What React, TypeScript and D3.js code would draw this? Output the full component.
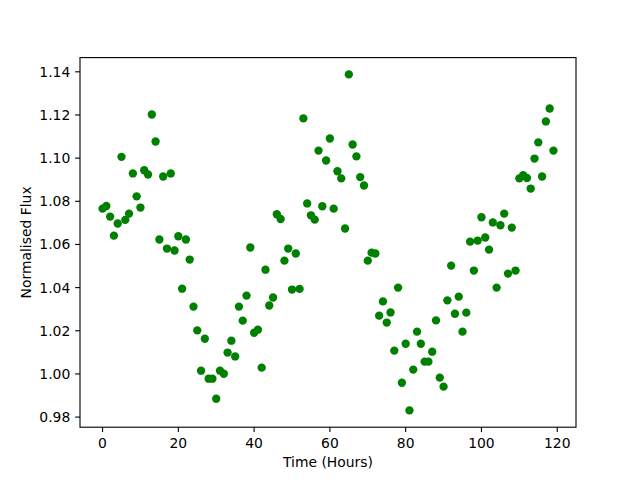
import React from "react";
import * as d3 from "d3";

// Time in hours (0..119) and normalised flux values
const hours: number[] = Array.from({ length: 120 }, (_, i) => i);
const flux: number[] = [
  1.0766, 1.0778, 1.0729, 1.0641, 1.0697, 1.1006, 1.0714, 1.0743, 1.0929, 1.0823,
  1.0771, 1.0944, 1.0924, 1.1202, 1.1077, 1.0623, 1.0915, 1.0581, 1.0929, 1.0572,
  1.0638, 1.0395, 1.0623, 1.0530, 1.0312, 1.0202, 1.0015, 1.0163, 0.9978, 0.9978,
  0.9885, 1.0015, 1.0001, 1.0099, 1.0154, 1.0081, 1.0312, 1.0247, 1.0363, 1.0586,
  1.0191, 1.0205, 1.0029, 1.0483, 1.0317, 1.0354, 1.0740, 1.0718, 1.0525, 1.0581,
  1.0391, 1.0558, 1.0394, 1.1184, 1.0790, 1.0735, 1.0715, 1.1035, 1.0777, 1.0989,
  1.1091, 1.0766, 1.0939, 1.0906, 1.0674, 1.1388, 1.1063, 1.1008, 1.0912, 1.0873,
  1.0525, 1.0562, 1.0558, 1.0270, 1.0336, 1.0238, 1.0285, 1.0108, 1.0400, 0.9959,
  1.0140, 0.9831, 1.0020, 1.0196, 1.0140, 1.0057, 1.0057, 1.0103, 1.0248, 0.9983,
  0.9941, 1.0341, 1.0502, 1.0279, 1.0358, 1.0196, 1.0284, 1.0613, 1.0479, 1.0618,
  1.0726, 1.0632, 1.0576, 1.0702, 1.0400, 1.0689, 1.0743, 1.0465, 1.0678, 1.0479,
  1.0906, 1.0921, 1.0908, 1.0859, 1.0998, 1.1073, 1.0915, 1.1170, 1.1230, 1.1035,
];
const xTicks: number[] = [0, 20, 40, 60, 80, 100, 120];
const yTicks: number[] = [0.98, 1.0, 1.02, 1.04, 1.06, 1.08, 1.1, 1.12, 1.14];
const xLabel = "Time (Hours)";
const yLabel = "Normalised Flux";

export default function App() {
  const W = 640, H = 480;
  const left = 80, right = 576, top = 57.6, bottom = 427.2;
  const font = "DejaVu Sans, sans-serif";
  const fs = 13.9;

  const [x0, x1] = d3.extent(hours) as [number, number];
  const xm = (x1 - x0) * 0.05;
  const x = d3.scaleLinear().domain([x0 - xm, x1 + xm]).range([left, right]);
  const [y0, y1] = d3.extent(flux) as [number, number];
  const ym = (y1 - y0) * 0.05;
  const y = d3.scaleLinear().domain([y0 - ym, y1 + ym]).range([bottom, top]);

  const tickLen = 4.86;
  const color = "#008000";

  return (
    <svg width={W} height={H} style={{ position: "absolute", left: 0, top: 0, background: "#fff" }}>
      <rect x={0} y={0} width={W} height={H} fill="#fff" />
      {hours.map((t, i) => (
        <circle key={i} cx={x(t)} cy={y(flux[i])} r={4.17} fill={color} />
      ))}
      <rect x={left} y={top} width={right - left} height={bottom - top} fill="none" stroke="#000" strokeWidth={1.11} />
      {xTicks.map((t) => (
        <g key={"x" + t}>
          <line x1={x(t)} x2={x(t)} y1={bottom} y2={bottom + tickLen} stroke="#000" strokeWidth={1.11} />
          <text x={x(t)} y={bottom + 20.3} textAnchor="middle" fontFamily={font} fontSize={fs} fill="#000">
            {t}
          </text>
        </g>
      ))}
      {yTicks.map((t) => (
        <g key={"y" + t}>
          <line x1={left - tickLen} x2={left} y1={y(t)} y2={y(t)} stroke="#000" strokeWidth={1.11} />
          <text x={left - tickLen - 4.86} y={y(t)} dy="0.36em" textAnchor="end" fontFamily={font} fontSize={fs} fill="#000">
            {t.toFixed(2)}
          </text>
        </g>
      ))}
      <text x={(left + right) / 2} y={467} textAnchor="middle" fontFamily={font} fontSize={fs} fill="#000">
        {xLabel}
      </text>
      <text
        transform={`translate(31,${(top + bottom) / 2}) rotate(-90)`}
        textAnchor="middle"
        fontFamily={font}
        fontSize={fs}
        fill="#000"
      >
        {yLabel}
      </text>
    </svg>
  );
}
